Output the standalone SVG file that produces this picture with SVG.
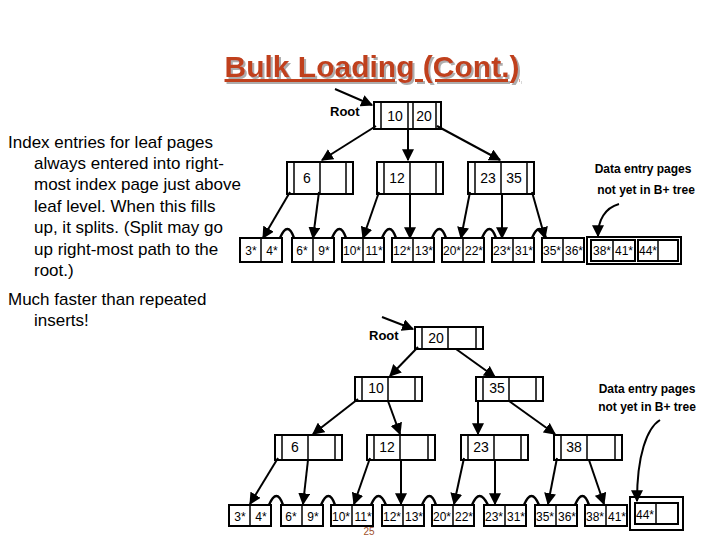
<svg xmlns="http://www.w3.org/2000/svg" width="720" height="540" viewBox="0 0 720 540">
<defs>
<marker id="ah" viewBox="0 0 10 10" refX="9" refY="5" markerWidth="6" markerHeight="6" orient="auto"><path d="M0,0 L10,5 L0,10 z" fill="#000"/></marker>
<filter id="sh" x="-5%" y="-20%" width="110%" height="140%"><feDropShadow dx="2" dy="2" stdDeviation="0.6" flood-color="#999" flood-opacity="0.8"/></filter>
<style>
.t{font-family:"Liberation Sans",Arial,sans-serif}
.body{font-size:17px;fill:#000}
.k{font-size:14px;fill:#000;text-anchor:middle}
.lf{font-size:12px;fill:#000;text-anchor:middle}
.b{font-weight:bold}
.box{fill:#fff;stroke:#000;stroke-width:2}
.ln{stroke:#000;stroke-width:1.5}
.ar{stroke:#000;stroke-width:2;fill:none;marker-end:url(#ah)}
.ch{stroke:#000;stroke-width:2.5;fill:none}
</style>
</defs>
<rect width="720" height="540" fill="#fff"/>
<g id="title">
<text class="t b" x="372" y="77" font-size="30" fill="#c0401e" text-anchor="middle" text-decoration="underline" filter="url(#sh)">Bulk Loading (Cont.)</text>
</g>
<g id="notes" class="t body">
<text x="8" y="148">Index entries for leaf pages</text>
<text x="34" y="169">always entered into right-</text>
<text x="34" y="190">most index page just above</text>
<text x="34" y="212">leaf level.  When this fills</text>
<text x="34" y="233">up, it splits.  (Split may go</text>
<text x="34" y="255">up right-most path to the</text>
<text x="34" y="276">root.)</text>
<text x="8" y="305">Much faster than repeated</text>
<text x="34" y="326">inserts!</text>
</g>
<g id="labels" class="t b">
<text x="330" y="116" font-size="13">Root</text>
<text x="369" y="340" font-size="13">Root</text>
<text x="643" y="173" font-size="12" text-anchor="middle">Data entry pages</text>
<text x="646" y="194" font-size="12" text-anchor="middle">not yet in B+ tree</text>
<text x="647" y="393" font-size="12" text-anchor="middle">Data entry pages</text>
<text x="647" y="411" font-size="12" text-anchor="middle">not yet in B+ tree</text>
<text x="369" y="535" font-size="10" font-weight="normal" fill="#a0522d" text-anchor="middle">25</text>
</g>
<g id="t_root"><rect class="box" x="374" y="102" width="67" height="27"/><path class="ln" d="M381,102V129M408,102V129M413,102V129M436,102V129"/><text class="t k" x="395" y="121">10</text><text class="t k" x="424" y="121">20</text></g>
<g id="t_n6"><rect class="box" x="287" y="162" width="66" height="32"/><path class="ln" d="M294,162V194M320,162V194M346,162V194"/><text class="t k" x="307" y="183">6</text></g>
<g id="t_n12"><rect class="box" x="377" y="162" width="66" height="32"/><path class="ln" d="M384,162V194M410,162V194M436,162V194"/><text class="t k" x="397" y="183">12</text></g>
<g id="t_n23"><rect class="box" x="468" y="162" width="66" height="32"/><path class="ln" d="M475,162V194M501,162V194M527,162V194"/><text class="t k" x="488" y="183">23</text><text class="t k" x="514" y="183" fill="#a0522d">35</text></g>
<g id="t_leaves" class="t">
<rect class="box" x="240" y="238" width="42" height="24"/><path class="ln" d="M261,238V262"/><text class="lf" x="251" y="255">3*</text><text class="lf" x="272" y="255">4*</text>
<rect class="box" x="292" y="238" width="42" height="24"/><path class="ln" d="M313,238V262"/><text class="lf" x="302" y="255">6*</text><text class="lf" x="324" y="255">9*</text>
<rect class="box" x="342" y="238" width="42" height="24"/><path class="ln" d="M363,238V262"/><text class="lf" x="352" y="255">10*</text><text class="lf" x="374" y="255">11*</text>
<rect class="box" x="392" y="238" width="42" height="24"/><path class="ln" d="M413,238V262"/><text class="lf" x="402" y="255">12*</text><text class="lf" x="424" y="255">13*</text>
<rect class="box" x="442" y="238" width="42" height="24"/><path class="ln" d="M463,238V262"/><text class="lf" x="452" y="255">20*</text><text class="lf" x="474" y="255">22*</text>
<rect class="box" x="492" y="238" width="42" height="24"/><path class="ln" d="M513,238V262"/><text class="lf" x="502" y="255">23*</text><text class="lf" x="524" y="255">31*</text>
<rect class="box" x="542" y="238" width="42" height="24"/><path class="ln" d="M563,238V262"/><text class="lf" x="552" y="255">35*</text><text class="lf" x="574" y="255">36*</text>
<rect class="box" x="587" y="237" width="94" height="27"/>
<rect class="box" x="591" y="240" width="44" height="21"/><path class="ln" d="M613,240V261"/><text class="lf" x="602" y="255">38*</text><text class="lf" x="624" y="255">41*</text>
<rect class="box" x="638" y="240" width="40" height="21"/><path class="ln" d="M658,240V261"/><text class="lf" x="648" y="255">44*</text>
</g>
<g id="b_root"><rect class="box" x="415" y="327" width="68" height="22"/><path class="ln" d="M422,327V349M448,327V349M476,327V349"/><text class="t k" x="436" y="343">20</text></g>
<g id="b_n10"><rect class="box" x="355" y="377" width="67" height="24"/><path class="ln" d="M362,377V401M388,377V401M415,377V401"/><text class="t k" x="376" y="393">10</text></g>
<g id="b_n35"><rect class="box" x="476" y="377" width="67" height="24"/><path class="ln" d="M483,377V401M509,377V401M536,377V401"/><text class="t k" x="497" y="393">35</text></g>
<g id="b_n6"><rect class="box" x="275" y="435" width="67" height="25"/><path class="ln" d="M282,435V460M308,435V460M335,435V460"/><text class="t k" x="295" y="452">6</text></g>
<g id="b_n12"><rect class="box" x="367" y="435" width="68" height="25"/><path class="ln" d="M374,435V460M400,435V460M428,435V460"/><text class="t k" x="387" y="452">12</text></g>
<g id="b_n23"><rect class="box" x="461" y="435" width="67" height="25"/><path class="ln" d="M468,435V460M494,435V460M521,435V460"/><text class="t k" x="481" y="452">23</text></g>
<g id="b_n38"><rect class="box" x="554" y="435" width="68" height="25"/><path class="ln" d="M561,435V460M587,435V460M615,435V460"/><text class="t k" x="574" y="452">38</text></g>
<g id="b_leaves" class="t">
<rect class="box" x="229" y="505" width="42" height="21"/><path class="ln" d="M250,505V526"/><text class="lf" x="240" y="521">3*</text><text class="lf" x="261" y="521">4*</text>
<rect class="box" x="281" y="505" width="42" height="21"/><path class="ln" d="M302,505V526"/><text class="lf" x="291" y="521">6*</text><text class="lf" x="313" y="521">9*</text>
<rect class="box" x="331" y="505" width="42" height="21"/><path class="ln" d="M352,505V526"/><text class="lf" x="341" y="521">10*</text><text class="lf" x="363" y="521">11*</text>
<rect class="box" x="382" y="505" width="42" height="21"/><path class="ln" d="M403,505V526"/><text class="lf" x="392" y="521">12*</text><text class="lf" x="414" y="521">13*</text>
<rect class="box" x="432" y="505" width="42" height="21"/><path class="ln" d="M453,505V526"/><text class="lf" x="442" y="521">20*</text><text class="lf" x="464" y="521">22*</text>
<rect class="box" x="484" y="505" width="42" height="21"/><path class="ln" d="M505,505V526"/><text class="lf" x="494" y="521">23*</text><text class="lf" x="516" y="521">31*</text>
<rect class="box" x="535" y="505" width="42" height="21"/><path class="ln" d="M556,505V526"/><text class="lf" x="545" y="521">35*</text><text class="lf" x="567" y="521">36*</text>
<rect class="box" x="585" y="505" width="42" height="21"/><path class="ln" d="M606,505V526"/><text class="lf" x="595" y="521">38*</text><text class="lf" x="617" y="521">41*</text>
<rect class="box" x="630" y="497" width="53" height="33"/>
<rect class="box" x="635" y="503" width="43" height="21"/><path class="ln" d="M656,503V524"/><text class="lf" x="645" y="519">44*</text>
</g>
<g id="connectors">
<path class="ar" d="M335,89L372,105"/>
<path class="ar" d="M376,126L322,160"/>
<path class="ar" d="M408,129L408,160"/>
<path class="ar" d="M437,126L500,160"/>
<path class="ar" d="M290,192L263,238"/>
<path class="ar" d="M319,192L313,238"/>
<path class="ar" d="M379,192L363,238"/>
<path class="ar" d="M410,194L410,238"/>
<path class="ar" d="M470,192L461,238"/>
<path class="ar" d="M502,194L502,238"/>
<path class="ar" d="M532,192L545,238"/>
<path class="ar" d="M619,204C605,208 598,220 598,236"/>
<path class="ch" d="M280,238C285,226 290,226 294,238M332,238C337,226 342,226 346,238M382,238C387,226 392,226 396,238M432,238C437,226 442,226 446,238M482,238C487,226 492,226 496,238M532,238C537,226 542,226 546,238"/>
<path class="ar" d="M382,317L413,329"/>
<path class="ar" d="M418,347L390,376"/>
<path class="ar" d="M456,349L495,377"/>
<path class="ar" d="M358,399L313,434"/>
<path class="ar" d="M388,401L400,434"/>
<path class="ar" d="M478,401L478,434"/>
<path class="ar" d="M509,401L555,434"/>
<path class="ar" d="M278,458L250,504"/>
<path class="ar" d="M308,460L303,504"/>
<path class="ar" d="M370,458L354,504"/>
<path class="ar" d="M401,460L401,504"/>
<path class="ar" d="M464,458L454,504"/>
<path class="ar" d="M495,460L495,504"/>
<path class="ar" d="M557,458L548,504"/>
<path class="ar" d="M589,460L604,504"/>
<path class="ar" d="M660,420C647,428 637,455 637,501"/>
<path class="ch" d="M269,505C274,493 279,493 283,505M321,505C326,493 331,493 335,505M371,505C376,493 381,493 386,505M422,505C427,493 432,493 436,505M472,505C477,493 482,493 488,505M524,505C529,493 534,493 539,505M575,505C580,493 585,493 589,505"/>
</g>
</svg>
